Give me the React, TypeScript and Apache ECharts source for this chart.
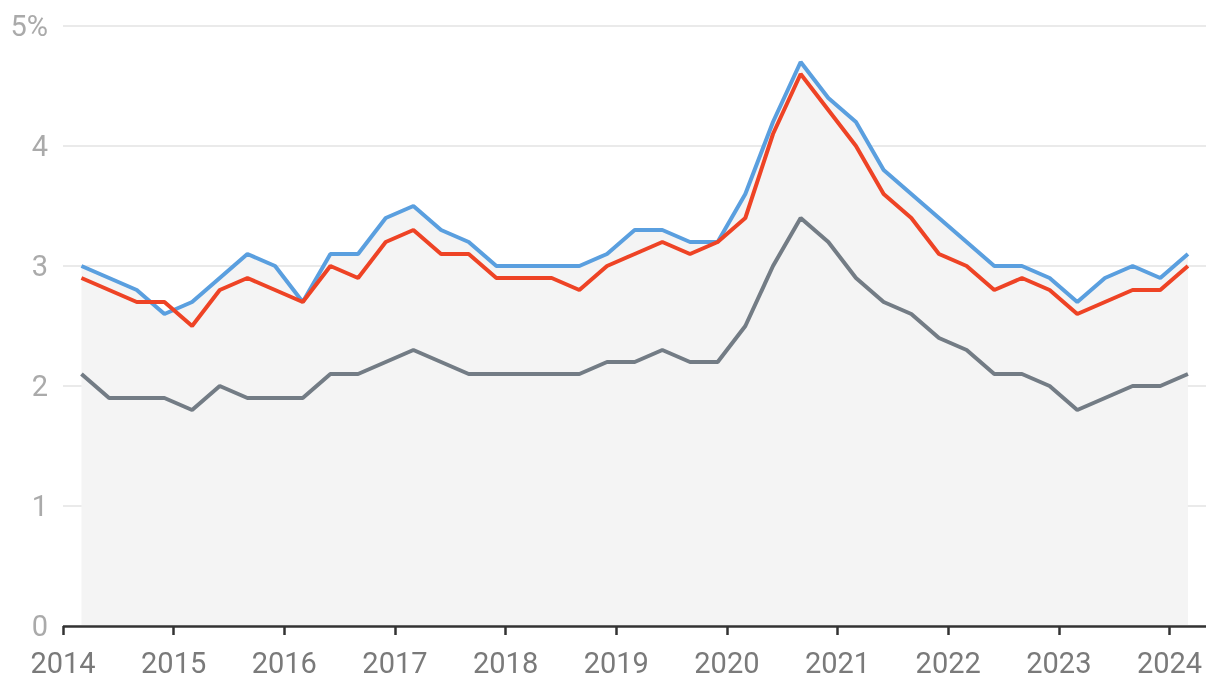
import React, { useEffect, useRef } from "react";
import * as echarts from "echarts";

const quarters = [
  "2014-03", "2014-06", "2014-09", "2014-12",
  "2015-03", "2015-06", "2015-09", "2015-12",
  "2016-03", "2016-06", "2016-09", "2016-12",
  "2017-03", "2017-06", "2017-09", "2017-12",
  "2018-03", "2018-06", "2018-09", "2018-12",
  "2019-03", "2019-06", "2019-09", "2019-12",
  "2020-03", "2020-06", "2020-09", "2020-12",
  "2021-03", "2021-06", "2021-09", "2021-12",
  "2022-03", "2022-06", "2022-09", "2022-12",
  "2023-03", "2023-06", "2023-09", "2023-12",
  "2024-03",
];

const blueValues = [
  3.0, 2.9, 2.8, 2.6, 2.7, 2.9, 3.1, 3.0, 2.7, 3.1, 3.1, 3.4,
  3.5, 3.3, 3.2, 3.0, 3.0, 3.0, 3.0, 3.1, 3.3, 3.3, 3.2, 3.2,
  3.6, 4.2, 4.7, 4.4, 4.2, 3.8, 3.6, 3.4, 3.2, 3.0, 3.0, 2.9,
  2.7, 2.9, 3.0, 2.9, 3.1,
];

const redValues = [
  2.9, 2.8, 2.7, 2.7, 2.5, 2.8, 2.9, 2.8, 2.7, 3.0, 2.9, 3.2,
  3.3, 3.1, 3.1, 2.9, 2.9, 2.9, 2.8, 3.0, 3.1, 3.2, 3.1, 3.2,
  3.4, 4.1, 4.6, 4.3, 4.0, 3.6, 3.4, 3.1, 3.0, 2.8, 2.9, 2.8,
  2.6, 2.7, 2.8, 2.8, 3.0,
];

const grayValues = [
  2.1, 1.9, 1.9, 1.9, 1.8, 2.0, 1.9, 1.9, 1.9, 2.1, 2.1, 2.2,
  2.3, 2.2, 2.1, 2.1, 2.1, 2.1, 2.1, 2.2, 2.2, 2.3, 2.2, 2.2,
  2.5, 3.0, 3.4, 3.2, 2.9, 2.7, 2.6, 2.4, 2.3, 2.1, 2.1, 2.0,
  1.8, 1.9, 2.0, 2.0, 2.1,
];

const yearTicks = [2014, 2015, 2016, 2017, 2018, 2019, 2020, 2021, 2022, 2023, 2024];
const yTicks = [0, 1, 2, 3, 4, 5];

function toYear(q: string): number {
  const [y, m] = q.split("-").map(Number);
  return y + (m - 1) / 12;
}

function pairs(vals: number[]) {
  return quarters.map((q, i) => [toYear(q), vals[i]]);
}

export default function App() {
  const ref = useRef<HTMLDivElement>(null);
  useEffect(() => {
    if (!ref.current) return;
    const chart = echarts.init(ref.current, null, { renderer: "svg" });
    const font = "Roboto, 'Noto Sans', sans-serif";
    chart.setOption({
      animation: false,
      grid: { left: 63, right: 14, top: 26, bottom: 68, containLabel: false },
      xAxis: {
        type: "value",
        min: 2014,
        max: 2024.33,
        interval: 1,
        z: 10,
        axisLine: { show: true, lineStyle: { color: "#333333", width: 2.5, cap: "butt" } },
        axisTick: {
          show: true,
          length: 9,
          lineStyle: { color: "#333333", width: 2.5 },
          customValues: yearTicks,
        },
        axisLabel: {
          color: "#7a7a7a",
          fontSize: 29,
          fontFamily: font,
          margin: 22,
          customValues: yearTicks,
          formatter: (v: number) => String(Math.round(v)),
        },
        splitLine: { show: false },
      },
      yAxis: {
        type: "value",
        min: 0,
        max: 5,
        interval: 1,
        axisLine: { show: false },
        axisTick: { show: false },
        axisLabel: {
          color: "#aaaaaa",
          fontSize: 29,
          fontFamily: font,
          margin: 15,
          customValues: yTicks,
          formatter: (v: number) => (v === 5 ? "5%" : String(v)),
        },
        splitLine: { show: true, lineStyle: { color: "#e3e3e3", width: 1.5 } },
      },
      series: [
        {
          type: "line",
          data: pairs(blueValues),
          symbol: "none",
          lineStyle: { color: "#5a9fdf", width: 4 },
          itemStyle: { color: "#5a9fdf" },
          areaStyle: { color: "#f4f4f4", opacity: 1 },
          z: 2,
        },
        {
          type: "line",
          data: pairs(grayValues),
          symbol: "none",
          lineStyle: { color: "#737c85", width: 4 },
          itemStyle: { color: "#737c85" },
          z: 3,
        },
        {
          type: "line",
          data: pairs(redValues),
          symbol: "none",
          lineStyle: { color: "#ee4325", width: 4 },
          itemStyle: { color: "#ee4325" },
          z: 4,
        },
      ],
    });
    return () => chart.dispose();
  }, []);
  return (
    <div
      ref={ref}
      style={{ position: "fixed", left: 0, top: 0, width: 1220, height: 694 }}
    />
  );
}
